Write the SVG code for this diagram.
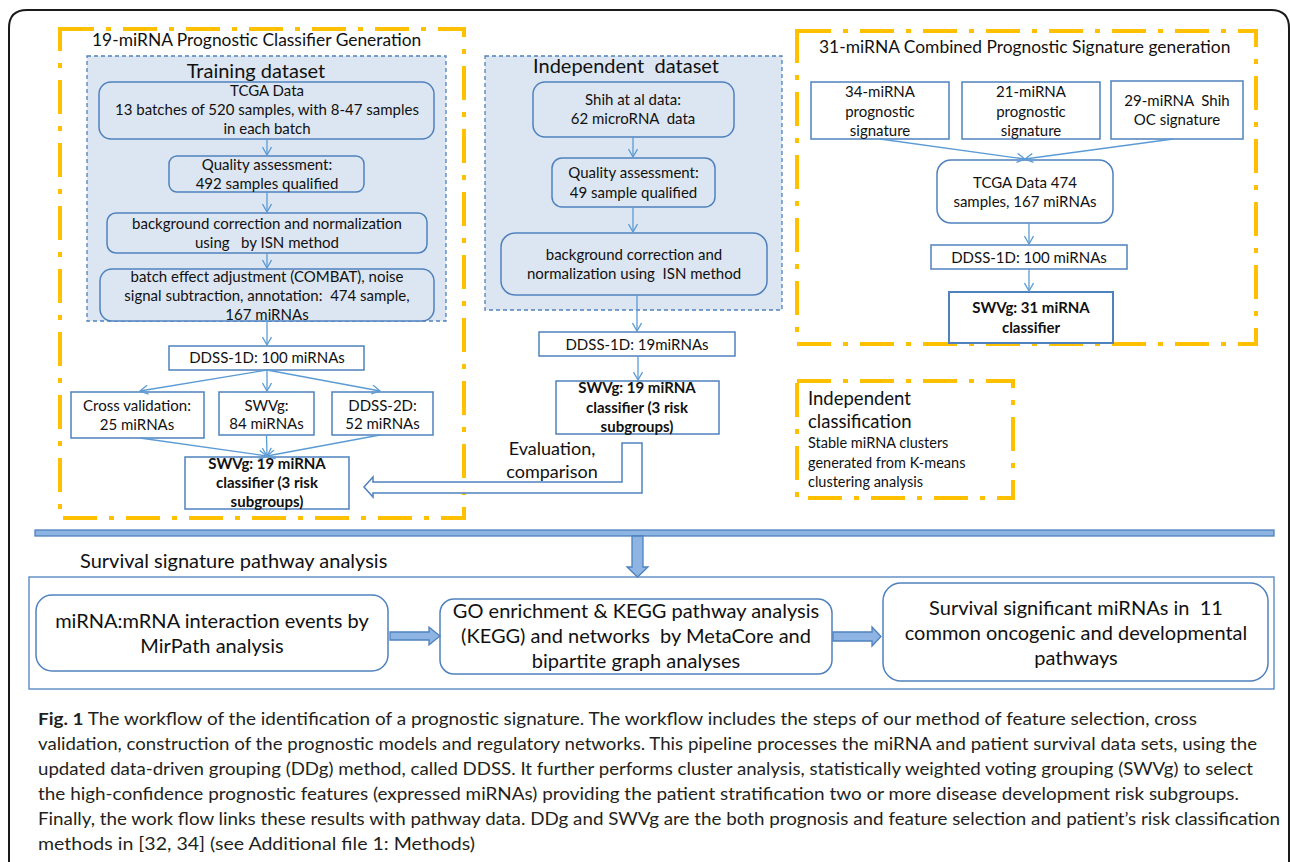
<svg xmlns="http://www.w3.org/2000/svg" width="1290" height="862" viewBox="0 0 1290 862">
<defs>
<style>
text{font-family:Lato,"Liberation Sans",sans-serif;fill:#111;}
.c{text-anchor:middle;font-size:15px;}
.b{text-anchor:middle;font-size:15px;font-weight:bold;}
.h{font-size:17.4px;}
.big{font-size:20px;text-anchor:middle;}
.cap{font-family:Lato,"Liberation Sans",sans-serif;font-size:17.5px;fill:#231F20;}
.yel{fill:none;stroke:#FFC000;stroke-width:4;stroke-dasharray:34 12 5 12;}
.ds{fill:#DCE6F2;stroke:#4F81BD;stroke-width:1.3;stroke-dasharray:4 3;}
.rb{fill:#DCE6F2;stroke:#4F81BD;stroke-width:1.5;}
.sq{fill:#fff;stroke:#4F81BD;stroke-width:1.5;}
.sq2{fill:#fff;stroke:#4F81BD;stroke-width:2;}
.wb{fill:#fff;stroke:#4F81BD;stroke-width:1.5;}
.ln{stroke:#5B9BD5;stroke-width:1.3;fill:none;marker-end:url(#ah);}
.blk{fill:#8DB4E2;stroke:#4F81BD;stroke-width:1.3;}
</style>
<marker id="ah" viewBox="0 0 10 10" refX="9" refY="5" markerWidth="10" markerHeight="10" markerUnits="userSpaceOnUse" orient="auto">
<path d="M1,0.5 L9,5 L1,9.5" fill="none" stroke="#5B9BD5" stroke-width="1.3"/>
</marker>
</defs>
<rect width="1290" height="862" fill="#fff"/>
<path d="M9,862 V28 Q9,10 27,10 H1271 Q1289,10 1289,28 V862" fill="none" stroke="#1a1a1a" stroke-width="2"/>

<!-- frames -->
<g id="frame-left">
<rect class="yel" x="60" y="29" width="404" height="489"/>
<text class="h" x="92" y="46">19-miRNA Prognostic Classifier Generation</text>
</g>
<g id="training-dataset">
<rect class="ds" x="87" y="56" width="359" height="265"/>
<text x="256" y="78" style="font-size:20px;text-anchor:middle">Training dataset</text>
</g>
<g id="independent-dataset">
<rect class="ds" x="485" y="56" width="297" height="254"/>
<text x="626" y="73" style="font-size:20px;text-anchor:middle" xml:space="preserve">Independent  dataset</text>
</g>
<g id="frame-right">
<rect class="yel" x="797" y="31" width="459" height="313"/>
<text class="h" x="819" y="53">31-miRNA Combined Prognostic Signature generation</text>
</g>
<g id="independent-classification">
<rect class="yel" x="797" y="381" width="216" height="117"/>
<text x="808" y="405" style="font-size:18.5px">Independent</text>
<text x="808" y="428" style="font-size:18.5px">classification</text>
<text x="808" y="448" style="font-size:14.5px">Stable miRNA clusters</text>
<text x="808" y="468" style="font-size:14.5px">generated from K-means</text>
<text x="808" y="487" style="font-size:14.5px">clustering analysis</text>
</g>

<!-- left panel nodes -->
<g id="n-tcga">
<rect class="rb" x="99" y="82" width="335" height="57" rx="12"/>
<text class="c" x="267" y="96">TCGA Data</text>
<text class="c" x="267" y="115">13 batches of 520 samples, with 8-47 samples</text>
<text class="c" x="267" y="134">in each batch</text>
</g>
<g id="n-qa1">
<rect class="rb" x="169" y="156" width="195" height="36" rx="8"/>
<text class="c" x="267" y="170">Quality assessment:</text>
<text class="c" x="267" y="189">492 samples qualified</text>
</g>
<g id="n-bg1">
<rect class="rb" x="107" y="213" width="320" height="40" rx="9"/>
<text class="c" x="267" y="229">background correction and normalization</text>
<text class="c" x="267" y="248" xml:space="preserve">using   by ISN method</text>
</g>
<g id="n-batch">
<rect class="rb" x="100" y="269" width="334" height="52" rx="12"/>
<text class="c" x="267" y="282">batch effect adjustment (COMBAT), noise</text>
<text class="c" x="267" y="301" xml:space="preserve">signal subtraction, annotation:  474 sample,</text>
<text class="c" x="267" y="320">167 miRNAs</text>
</g>
<g id="n-ddss1d-left">
<rect class="sq" x="169" y="346" width="195" height="24"/>
<text class="c" x="267" y="363">DDSS-1D: 100 miRNAs</text>
</g>
<g id="n-cv">
<rect class="sq" x="71" y="392" width="133" height="46"/>
<text class="c" x="137" y="411">Cross validation:</text>
<text class="c" x="137" y="430">25 miRNAs</text>
</g>
<g id="n-swvg84">
<rect class="sq" x="219" y="392" width="95" height="43"/>
<text class="c" x="266.5" y="411">SWVg:</text>
<text class="c" x="266.5" y="429">84 miRNAs</text>
</g>
<g id="n-ddss2d">
<rect class="sq" x="332" y="392" width="101" height="43"/>
<text class="c" x="382.5" y="411">DDSS-2D:</text>
<text class="c" x="382.5" y="429">52 miRNAs</text>
</g>
<g id="n-swvg19-left">
<rect class="sq" x="185" y="457" width="164" height="52"/>
<text class="b" x="267" y="469">SWVg: 19 miRNA</text>
<text class="b" x="267" y="488">classifier (3 risk</text>
<text class="b" x="267" y="507">subgroups)</text>
</g>

<!-- middle nodes -->
<g id="n-shih">
<rect class="rb" x="533" y="82" width="201" height="55" rx="12"/>
<text class="c" x="633" y="105">Shih at al data:</text>
<text class="c" x="633" y="124" xml:space="preserve">62 microRNA  data</text>
</g>
<g id="n-qa2">
<rect class="rb" x="552" y="158" width="163" height="49" rx="10"/>
<text class="c" x="633.5" y="178">Quality assessment:</text>
<text class="c" x="633.5" y="198">49 sample qualified</text>
</g>
<g id="n-bg2">
<rect class="rb" x="501" y="233" width="266" height="62" rx="14"/>
<text class="c" x="634" y="260">background correction and</text>
<text class="c" x="634" y="279" xml:space="preserve">normalization using  ISN method</text>
</g>
<g id="n-ddss19">
<rect class="sq" x="539" y="332" width="196" height="24"/>
<text class="c" x="637" y="350">DDSS-1D: 19miRNAs</text>
</g>
<g id="n-swvg19-mid">
<rect class="sq" x="556" y="381" width="163" height="53"/>
<text class="b" x="637" y="393">SWVg: 19 miRNA</text>
<text class="b" x="637" y="413">classifier (3 risk</text>
<text class="b" x="637" y="432">subgroups)</text>
</g>

<!-- right nodes -->
<g id="n-34">
<rect class="sq" x="811" y="82" width="138" height="57"/>
<text class="c" x="880" y="97">34-miRNA</text>
<text class="c" x="880" y="117">prognostic</text>
<text class="c" x="880" y="136">signature</text>
</g>
<g id="n-21">
<rect class="sq" x="962" y="82" width="138" height="57"/>
<text class="c" x="1031" y="97">21-miRNA</text>
<text class="c" x="1031" y="117">prognostic</text>
<text class="c" x="1031" y="136">signature</text>
</g>
<g id="n-29">
<rect class="sq" x="1111" y="81" width="132" height="58"/>
<text class="c" x="1177" y="106" xml:space="preserve">29-miRNA  Shih</text>
<text class="c" x="1177" y="125">OC signature</text>
</g>
<g id="n-tcga474">
<rect class="wb" x="937" y="160" width="176" height="63" rx="14"/>
<text class="c" x="1025" y="188">TCGA Data 474</text>
<text class="c" x="1025" y="207">samples, 167 miRNAs</text>
</g>
<g id="n-ddss1d-right">
<rect class="sq" x="931" y="245" width="196" height="24"/>
<text class="c" x="1029" y="263">DDSS-1D: 100 miRNAs</text>
</g>
<g id="n-swvg31">
<rect class="sq2" x="949" y="292" width="164" height="51"/>
<text class="b" x="1031" y="313">SWVg: 31 miRNA</text>
<text class="b" x="1031" y="333">classifier</text>
</g>

<!-- bottom section -->
<g id="pathway-section">
<text x="80" y="568" style="font-size:20px">Survival signature pathway analysis</text>
<rect x="29" y="577" width="1245" height="112" fill="none" stroke="#4F81BD" stroke-width="1.3"/>
</g>
<g id="n-mirpath">
<rect class="wb" x="36" y="595" width="352" height="76" rx="16"/>
<text class="big" x="212" y="628">miRNA:mRNA interaction events by</text>
<text class="big" x="212" y="653">MirPath analysis</text>
</g>
<g id="n-go">
<rect class="wb" x="440" y="599" width="392" height="75" rx="14"/>
<text class="big" x="636" y="618">GO enrichment &amp; KEGG pathway analysis</text>
<text class="big" x="636" y="643" xml:space="preserve">(KEGG) and networks  by MetaCore and</text>
<text class="big" x="636" y="668">bipartite graph analyses</text>
</g>
<g id="n-survival">
<rect class="wb" x="883" y="583" width="385" height="98" rx="18"/>
<text class="big" x="1076" y="615" xml:space="preserve">Survival significant miRNAs in  11</text>
<text class="big" x="1076" y="640">common oncogenic and developmental</text>
<text class="big" x="1076" y="665">pathways</text>
</g>

<!-- connectors -->
<g id="connectors">
<line class="ln" x1="267" y1="139" x2="267" y2="155"/>
<line class="ln" x1="267" y1="192" x2="267" y2="212"/>
<line class="ln" x1="267" y1="253" x2="267" y2="268"/>
<line class="ln" x1="267" y1="321" x2="267" y2="345"/>
<line class="ln" x1="267" y1="370" x2="140" y2="391"/>
<line class="ln" x1="267" y1="370" x2="267" y2="391"/>
<line class="ln" x1="267" y1="370" x2="380" y2="391"/>
<line class="ln" x1="140" y1="438" x2="267" y2="456"/>
<line class="ln" x1="266.5" y1="435" x2="267" y2="456"/>
<line class="ln" x1="380" y1="435" x2="267" y2="456"/>
<line class="ln" x1="633" y1="137" x2="633" y2="157"/>
<line class="ln" x1="633" y1="207" x2="633" y2="232"/>
<line class="ln" x1="637" y1="295" x2="637" y2="331"/>
<line class="ln" x1="638" y1="356" x2="638" y2="380"/>
<line class="ln" x1="880" y1="139" x2="1025" y2="159"/>
<line class="ln" x1="1173" y1="139" x2="1025" y2="159"/>
<line class="ln" x1="1029" y1="223" x2="1029" y2="244"/>
<line class="ln" x1="1029" y1="269" x2="1029" y2="291"/>
<polygon points="622,443 642,443 642,493 373,493 373,497 364,487 373,477 373,482 622,482" fill="#fff" stroke="#4F81BD" stroke-width="1.5"/>
<text x="552" y="455" style="font-size:18px;text-anchor:middle">Evaluation,</text>
<text x="552" y="478" style="font-size:18px;text-anchor:middle">comparison</text>
<rect class="blk" x="35" y="530" width="1239" height="6"/>
<polygon class="blk" points="632,536 643,536 643,567 648,567 637.5,577 627,567 632,567"/>
<polygon class="blk" points="390,632 429,632 429,627 440,636 429,645 429,640 390,640"/>
<polygon class="blk" points="833,632 872,632 872,627 881,636.5 872,646 872,641 833,641"/>
</g>

<!-- caption -->
<g id="caption">
<text class="cap" x="38" y="725" textLength="1159" lengthAdjust="spacingAndGlyphs"><tspan font-weight="bold">Fig. 1</tspan> The workflow of the identification of a prognostic signature. The workflow includes the steps of our method of feature selection, cross</text>
<text class="cap" x="38" y="750" textLength="1219" lengthAdjust="spacingAndGlyphs">validation, construction of the prognostic models and regulatory networks. This pipeline processes the miRNA and patient survival data sets, using the</text>
<text class="cap" x="38" y="775" textLength="1215" lengthAdjust="spacingAndGlyphs">updated data-driven grouping (DDg) method, called DDSS. It further performs cluster analysis, statistically weighted voting grouping (SWVg) to select</text>
<text class="cap" x="38" y="800" textLength="1201" lengthAdjust="spacingAndGlyphs">the high-confidence prognostic features (expressed miRNAs) providing the patient stratification two or more disease development risk subgroups.</text>
<text class="cap" x="38" y="825" textLength="1242" lengthAdjust="spacingAndGlyphs">Finally, the work flow links these results with pathway data. DDg and SWVg are the both prognosis and feature selection and patient’s risk classification</text>
<text class="cap" x="38" y="850" textLength="437" lengthAdjust="spacingAndGlyphs">methods in [32, 34] (see Additional file 1: Methods)</text>
</g>
</svg>
